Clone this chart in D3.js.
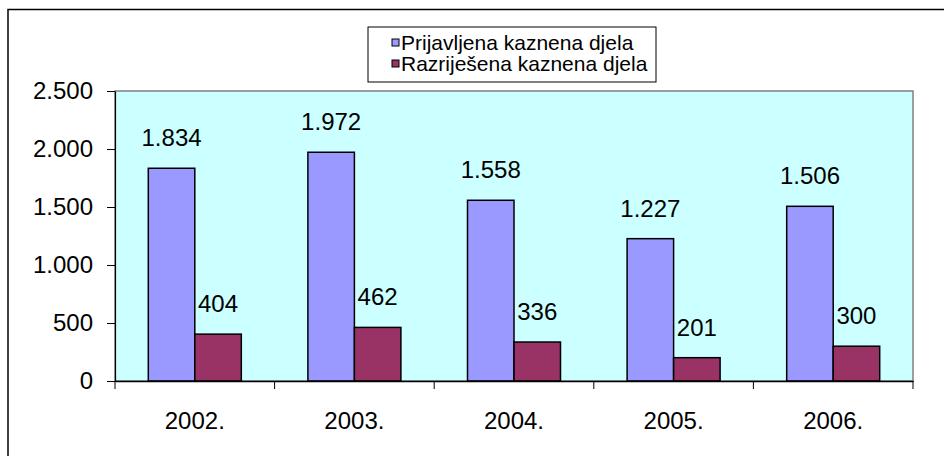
<!DOCTYPE html>
<html>
<head>
<meta charset="utf-8">
<script src="https://cdn.jsdelivr.net/npm/d3@7"></script>
<style>
  html, body { margin: 0; padding: 0; background: #fff; }
  svg { display: block; font-family: "Liberation Sans", Arial, sans-serif; }
</style>
</head>
<body>
<svg id="chart" width="944" height="456"></svg>
<script>
const categories = ["2002.", "2003.", "2004.", "2005.", "2006."];
const seriesNames = ["Prijavljena kaznena djela", "Razriješena kaznena djela"];
const prijavljena = [1834, 1972, 1558, 1227, 1506];
const razrijesena = [404, 462, 336, 201, 300];
const yTicks = [0, 500, 1000, 1500, 2000, 2500];
const colors = ["#9999FF", "#993366"];

const seriesValues = [prijavljena, razrijesena];
const svg = d3.select("#chart");

const locale = d3.formatLocale({ decimal: ",", thousands: ".", grouping: [3], currency: ["", ""] });
const fmt = locale.format(",");

const plot = { left: 115, right: 913, top: 91, bottom: 381 };
const fs = 24;

// outer frame
svg.append("rect")
  .attr("x", 8).attr("y", 9.5).attr("width", 950).attr("height", 480)
  .attr("fill", "none").attr("stroke", "#000").attr("stroke-width", 1.5);

const x0 = d3.scaleBand().domain(categories).range([plot.left, plot.right]).padding(0);
const x1 = d3.scaleBand().domain(seriesNames).range([0, x0.bandwidth()]).paddingInner(0).paddingOuter(0.716);
const y = d3.scaleLinear().domain([0, 2500]).range([plot.bottom, plot.top]);

// plot background
svg.append("rect")
  .attr("x", plot.left).attr("y", plot.top)
  .attr("width", plot.right - plot.left).attr("height", plot.bottom - plot.top)
  .attr("fill", "#CCFFFF").attr("stroke", "#808080").attr("stroke-width", 1.5);

// bars
const groups = svg.append("g").selectAll("g")
  .data(categories).join("g")
  .attr("transform", d => `translate(${x0(d)},0)`);

groups.selectAll("rect")
  .data((d, i) => seriesNames.map((s, j) => ({ s, j, v: seriesValues[j][i] })))
  .join("rect")
  .attr("x", d => x1(d.s))
  .attr("y", d => y(d.v))
  .attr("width", x1.bandwidth())
  .attr("height", d => y(0) - y(d.v))
  .attr("fill", d => colors[d.j])
  .attr("stroke", "#000").attr("stroke-width", 1.5);

groups.selectAll("text")
  .data((d, i) => seriesNames.map((s, j) => ({ s, j, v: seriesValues[j][i] })))
  .join("text")
  .attr("x", d => x1(d.s) + x1.bandwidth() / 2)
  .attr("y", d => y(d.v) - 22)
  .attr("text-anchor", "middle")
  .attr("font-size", fs)
  .attr("fill", "#000")
  .text(d => fmt(d.v));

// y axis
const yAxis = d3.axisLeft(y).tickValues(yTicks).tickFormat(fmt).tickSizeInner(8).tickSizeOuter(0).tickPadding(14);
const yg = svg.append("g").attr("transform", `translate(${plot.left},0)`).call(yAxis);
yg.select(".domain").attr("stroke", "#000").attr("stroke-width", 1.2);
yg.selectAll(".tick line").attr("stroke", "#000").attr("stroke-width", 1);
yg.selectAll(".tick text").attr("font-size", fs).attr("fill", "#000")
  .attr("font-family", "Liberation Sans, Arial, sans-serif");

// x axis
const xAxis = d3.axisBottom(x0).tickSize(0).tickPadding(31);
const xg = svg.append("g").attr("transform", `translate(0,${plot.bottom})`).call(xAxis);
xg.select(".domain").attr("stroke", "#000").attr("stroke-width", 1.5);
xg.selectAll(".tick text").attr("font-size", fs).attr("fill", "#000")
  .attr("font-family", "Liberation Sans, Arial, sans-serif");

// category separator ticks
const bounds = categories.map(c => x0(c)).concat([x0(categories[categories.length - 1]) + x0.bandwidth()]);
svg.append("g").selectAll("line").data(bounds).join("line")
  .attr("x1", d => d).attr("x2", d => d)
  .attr("y1", plot.bottom).attr("y2", plot.bottom + 8)
  .attr("stroke", "#000").attr("stroke-width", 1);

// legend
const lg = svg.append("g");
lg.append("rect")
  .attr("x", 368).attr("y", 27).attr("width", 288).attr("height", 55)
  .attr("fill", "#fff").attr("stroke", "#000").attr("stroke-width", 1);
seriesNames.forEach((s, i) => {
  lg.append("rect")
    .attr("x", 392).attr("y", 39 + i * 21).attr("width", 7).attr("height", 7)
    .attr("fill", colors[i]).attr("stroke", "#000").attr("stroke-width", 1);
  lg.append("text")
    .attr("x", 401).attr("y", 49.5 + i * 21)
    .attr("font-size", 21).attr("fill", "#000")
    .text(s);
});
</script>
</body>
</html>
